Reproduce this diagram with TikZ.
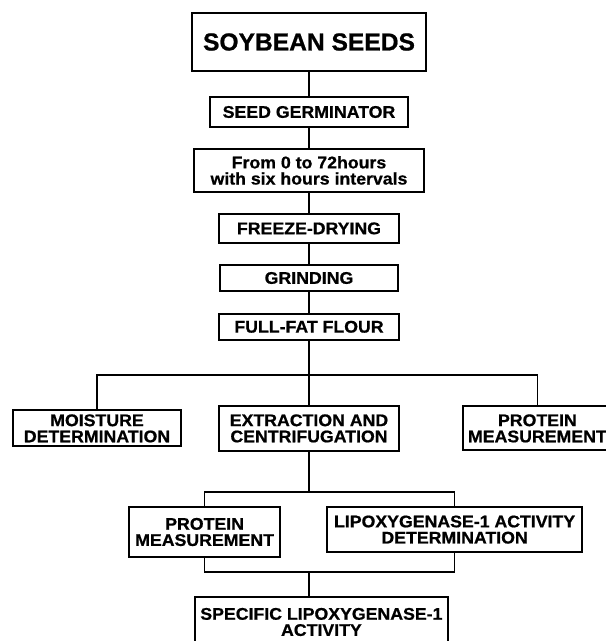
\documentclass[tikz,border=0pt]{standalone}
\usepackage{fontspec}
\setmainfont{Liberation Sans}
\newfontfamily\boxfont[FakeStretch=1.05, FakeBold=0.8]{Liberation Sans}
\newfontfamily\headfont[FakeBold=0.8]{Liberation Sans}
\usetikzlibrary{positioning}

\begin{document}
\begin{tikzpicture}[on grid, node distance=1.2cm,
    box/.style={draw, line width=1.3pt, align=center, inner sep=0pt,
        font=\boxfont\bfseries\fontsize{12}{11.5}\selectfont},
    link/.style={line width=1.1pt}]
    \useasboundingbox (0,0) rectangle (15.125,-16.025);

    \node[box, minimum width=5.85cm, minimum height=1.45cm,
        font=\headfont\bfseries\fontsize{17.5}{20}\selectfont] (soy) at (7.725,-1.05) {SOYBEAN SEEDS};
    \node[box, minimum width=4.93cm, minimum height=0.75cm] (germ) [below=1.75cm of soy] {SEED GERMINATOR};
    \node[box, minimum width=5.73cm, minimum height=1.08cm] (hours) [below=1.46cm of germ] {From 0 to 72hours\\with six hours intervals};
    \node[box, minimum width=4.5cm, minimum height=0.73cm] (freeze) [below=1.45cm of hours] {FREEZE-DRYING};
    \node[box, minimum width=4.45cm, minimum height=0.65cm] (grind) [below=1.24cm of freeze] {GRINDING};
    \node[box, minimum width=4.5cm, minimum height=0.65cm] (flour) [below=1.22cm of grind] {FULL-FAT FLOUR};

    \node[box, minimum width=4.48cm, minimum height=1.13cm] (extr) [below=2.54cm of flour] {EXTRACTION AND\\CENTRIFUGATION};
    \node[box, minimum width=4.2cm, minimum height=0.9cm] (moist) [left=5.3cm of extr] {MOISTURE\\DETERMINATION};
    \node[box, minimum width=3.73cm, minimum height=1.1cm] (protR) [right=5.71cm of extr] {PROTEIN\\MEASUREMENT};

    \node[box, minimum width=3.78cm, minimum height=1.25cm] (protL) [below left=2.59cm and 2.61cm of extr] {PROTEIN\\MEASUREMENT};
    \node[box, minimum width=6.38cm, minimum height=1.13cm] (lipox) [below right=2.53cm and 3.64cm of extr] {LIPOXYGENASE-1 ACTIVITY\\DETERMINATION};
    \node[box, minimum width=6.33cm, minimum height=1.25cm] (spec) [below right=4.84cm and 0.31cm of extr] {SPECIFIC LIPOXYGENASE-1\\ACTIVITY};

    \coordinate (bus1) at (0,-9.375);
    \coordinate (bus2) at (0,-12.3);
    \coordinate (bus3) at (0,-14.3);

    \draw[link] (soy) -- (germ) -- (hours) -- (freeze) -- (grind) -- (flour) -- (extr);
    \draw[link] (moist.north) -- (moist.north |- bus1) -- (protR.north |- bus1) -- (protR.north);
    \draw[link] (extr) -- (extr |- bus2);
    \draw[link] (protL.north) -- (protL.north |- bus2) -- (lipox.north |- bus2) -- (lipox.north);
    \draw[link] (protL.south) -- (protL.south |- bus3) -- (lipox.south |- bus3) -- (lipox.south);
    \draw[link] (extr |- bus3) -- (extr |- spec.north);

\end{tikzpicture}
\end{document}
